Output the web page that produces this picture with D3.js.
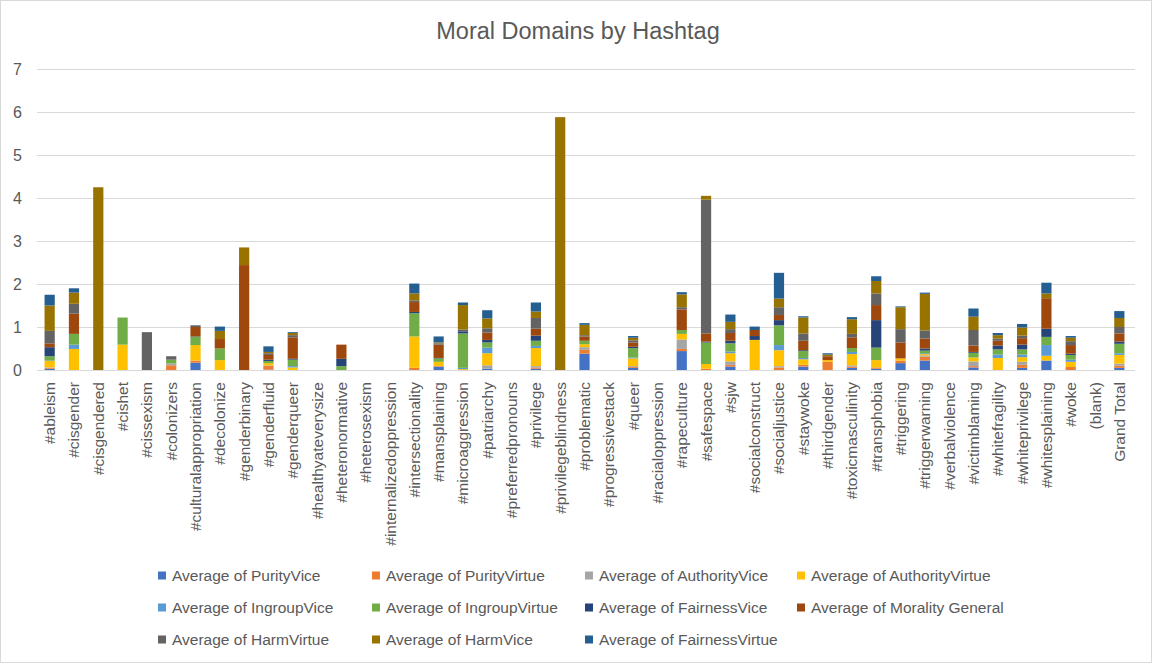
<!DOCTYPE html>
<html><head><meta charset="utf-8">
<script src="https://cdn.jsdelivr.net/npm/d3@7"></script>
<style>body{margin:0;background:#fff}svg{display:block}text{font-family:"Liberation Sans",Arial,sans-serif}</style>
</head><body><svg id="c" width="1152" height="663"></svg>
<script>
const categories = ["#ableism","#cisgender","#cisgendered","#cishet","#cissexism","#colonizers","#culturalappropriation","#decolonize","#genderbinary","#genderfluid","#genderqueer","#healthyateverysize","#heteronormative","#heterosexism","#internalizedoppression","#intersectionality","#mansplaining","#microaggression","#patriarchy","#preferredpronouns","#privilege","#privilegeblindness","#problematic","#progressivestack","#queer","#racialoppression","#rapeculture","#safespace","#sjw","#socialconstruct","#socialjustice","#staywoke","#thirdgender","#toxicmasculinity","#transphobia","#triggering","#triggerwarning","#verbalviolence","#victimblaming","#whitefragility","#whiteprivilege","#whitesplaining","#woke","(blank)","Grand Total"];
const seriesNames = ["Average of PurityVice","Average of PurityVirtue","Average of AuthorityVice","Average of AuthorityVirtue","Average of IngroupVice","Average of IngroupVirtue","Average of FairnessVice","Average of Morality General","Average of HarmVirtue","Average of HarmVice","Average of FairnessVirtue"];
const colors = ["#4472C4","#ED7D31","#A5A5A5","#FFC000","#5B9BD5","#70AD47","#264478","#9E480E","#636363","#997300","#255E91"];
// values per category, in series order
const purityVice      = [0.03,0,0,0,0,0,0.17,0,0,0.01,0,0,0,0,0,0,0.08,0,0.03,0,0.03,0,0.38,0,0.05,0,0.44,0,0.08,0,0,0.08,0,0.05,0.03,0.16,0.22,0,0.06,0,0.05,0.22,0,0,0.05];
const purityVirtue    = [0.02,0,0,0,0,0.11,0.05,0,0,0.09,0,0,0,0,0,0.05,0.01,0,0,0,0.03,0,0.09,0,0.02,0,0.05,0.03,0.04,0,0.06,0.04,0.19,0.03,0.03,0.06,0.09,0,0.03,0,0.07,0,0.07,0,0.05];
const authorityVice   = [0.01,0,0,0,0,0.04,0,0,0,0.01,0,0,0,0,0,0,0,0,0.08,0,0.03,0,0.06,0,0.02,0,0.22,0,0.08,0,0.03,0,0,0.03,0,0,0.03,0,0.11,0,0.07,0,0,0,0.05];
const authorityVirtue = [0.15,0.49,0,0.59,0,0,0.36,0.23,0,0.05,0.06,0,0,0,0,0.73,0.1,0.02,0.28,0,0.42,0,0.07,0,0.18,0,0.13,0.11,0.19,0.7,0.37,0.13,0.04,0.26,0.17,0.05,0.03,0,0.09,0.28,0.11,0.11,0.12,0,0.2];
const ingroupVice     = [0.01,0.1,0,0,0,0,0,0,0,0,0.03,0,0,0,0,0,0,0.03,0.13,0,0.05,0,0,0,0.02,0,0,0,0.04,0,0.12,0.03,0,0.05,0,0,0.02,0,0,0.08,0.06,0.25,0.05,0,0.04];
const ingroupVirtue   = [0.1,0.25,0,0.63,0,0.09,0.19,0.27,0,0.05,0.15,0,0.09,0,0,0.54,0.08,0.8,0.12,0,0.12,0,0.08,0,0.22,0,0.09,0.5,0.19,0,0.46,0.16,0,0.09,0.29,0,0.06,0,0.11,0.12,0.12,0.19,0.11,0,0.22];
const fairnessVice    = [0.21,0,0,0,0,0,0.01,0,0,0.03,0.02,0,0.17,0,0,0.03,0.01,0.05,0.06,0,0.12,0,0,0,0.03,0,0,0.02,0.06,0.09,0.12,0.02,0,0,0.64,0,0.05,0,0.02,0.09,0.11,0.19,0.03,0,0.05];
const moralityGeneral = [0.09,0.47,0,0,0,0,0.22,0.22,2.44,0.11,0.5,0,0.33,0,0,0.23,0.31,0,0.17,0,0.16,0,0.1,0,0.1,0,0.48,0.19,0.18,0.14,0.12,0.22,0.09,0.25,0.35,0.37,0.23,0,0.15,0.11,0.15,0.71,0.2,0,0.19];
const harmVirtue      = [0.29,0.23,0,0,0.88,0.08,0.04,0,0,0.04,0.05,0,0,0,0,0.04,0.03,0.04,0.1,0,0.25,0,0.03,0,0.05,0,0.05,3.11,0.09,0,0.18,0.17,0,0.08,0.27,0.31,0.19,0,0.36,0.05,0.06,0,0.09,0,0.15];
const harmVice        = [0.59,0.26,4.25,0,0,0,0,0.19,0.41,0.03,0.05,0,0,0,0,0.16,0.02,0.57,0.23,0,0.15,5.88,0.24,0,0.06,0,0.3,0.09,0.17,0,0.2,0.37,0.04,0.34,0.29,0.51,0.85,0,0.31,0.08,0.19,0.11,0.08,0,0.21];
const fairnessVirtue  = [0.25,0.1,0,0,0,0,0,0.1,0,0.13,0.02,0,0,0,0,0.23,0.14,0.06,0.19,0,0.21,0,0.04,0,0.04,0,0.05,0,0.17,0.08,0.6,0.03,0.03,0.05,0.11,0.02,0.03,0,0.19,0.05,0.08,0.25,0.04,0,0.16];
const yTicks = [0,1,2,3,4,5,6,7];
const title = "Moral Domains by Hashtag";

const seriesValues = [purityVice,purityVirtue,authorityVice,authorityVirtue,ingroupVice,ingroupVirtue,fairnessVice,moralityGeneral,harmVirtue,harmVice,fairnessVirtue];
const keys = seriesNames;
const table = categories.map((c,i)=>{const o={cat:c}; keys.forEach((k,j)=>o[k]=seriesValues[j][i]); return o;});
const stacked = d3.stack().keys(keys)(table);

const svg = d3.select("#c");
svg.append("rect").attr("x",0.5).attr("y",0.5).attr("width",1151).attr("height",662).attr("fill","#fff").attr("stroke","#d9d9d9");

const x = d3.scaleBand().domain(categories).range([37.5,1131.5]).paddingInner(0.58).paddingOuter(0.29);
const y = d3.scaleLinear().domain([0,7]).range([370,69]);

svg.append("text").attr("x",578).attr("y",39).attr("text-anchor","middle").attr("fill","#595959").attr("font-size",23.5).text(title);

const grid = svg.append("g");
grid.selectAll("line").data(yTicks).join("line")
  .attr("x1",37).attr("x2",1135).attr("y1",d=>Math.round(y(d))+0.5).attr("y2",d=>Math.round(y(d))+0.5)
  .attr("stroke","#d9d9d9").attr("stroke-width",1);
svg.append("g").selectAll("text").data(yTicks).join("text")
  .attr("x",22).attr("y",d=>y(d)+6).attr("text-anchor","end").attr("fill","#595959").attr("font-size",16).text(d=>d);

const gBars = svg.append("g");
stacked.forEach((s,j)=>{
  gBars.append("g").attr("fill",colors[j]).selectAll("rect").data(s).join("rect")
    .attr("x",d=>x(d.data.cat)).attr("width",x.bandwidth())
    .attr("y",d=>y(d[1])).attr("height",d=>Math.max(0,y(d[0])-y(d[1])));
});

svg.append("g").selectAll("text").data(categories).join("text")
  .attr("transform",d=>`translate(${x(d)+x.bandwidth()/2+5.5},382) rotate(-90)`)
  .attr("text-anchor","end").attr("fill","#595959").attr("font-size",15.5).text(d=>d);

const legX = [158,372,585,797];
const legY = [575.5,607.5,639.5];
const leg = svg.append("g");
seriesNames.forEach((n,i)=>{
  const cx = legX[i%4], cy = legY[Math.floor(i/4)];
  leg.append("rect").attr("x",cx).attr("y",cy-4).attr("width",8).attr("height",8).attr("fill",colors[i]);
  leg.append("text").attr("x",cx+14).attr("y",cy+5.5).attr("fill","#595959").attr("font-size",15.5).text(n);
});
</script></body></html>
